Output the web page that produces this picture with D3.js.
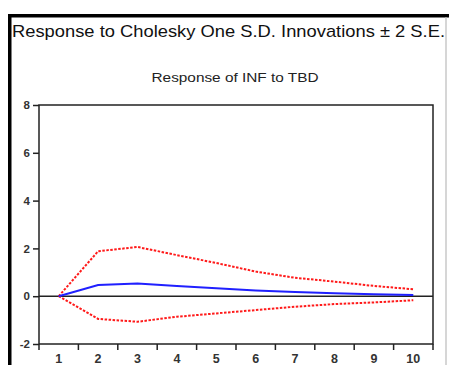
<!DOCTYPE html>
<html>
<head>
<meta charset="utf-8">
<script src="https://cdn.jsdelivr.net/npm/d3@7"></script>
<style>
  body { margin: 0; background: #fff; }
  svg { display: block; }
  text { font-family: "Liberation Sans", Arial, sans-serif; }
</style>
</head>
<body>
<svg id="chart" width="449" height="365"></svg>
<script>
// periods and impulse response values
const periods = [1, 2, 3, 4, 5, 6, 7, 8, 9, 10];
const response = [0, 0.47, 0.53, 0.43, 0.33, 0.24, 0.18, 0.12, 0.08, 0.05];
const upperBand = [0, 1.88, 2.06, 1.72, 1.39, 1.03, 0.77, 0.61, 0.43, 0.29];
const lowerBand = [0, -0.95, -1.07, -0.86, -0.72, -0.58, -0.44, -0.33, -0.26, -0.17];
const yTicks = [-2, 0, 2, 4, 6, 8];

const svg = d3.select("#chart");
const W = 449, H = 365;
const plot = { left: 39, right: 433, top: 105, bottom: 344 };

// outer frame like the EViews window
svg.append("rect").attr("x", 8).attr("y", 14).attr("width", 3.5).attr("height", H - 14).attr("fill", "#000");
svg.append("rect").attr("x", 8).attr("y", 14).attr("width", W - 8).attr("height", 3.5).attr("fill", "#000");
svg.append("line").attr("x1", 446).attr("x2", 446).attr("y1", 17).attr("y2", H)
  .attr("stroke", "#bbb").attr("stroke-width", 1.2);

svg.append("text").attr("x", 12).attr("y", 37)
  .attr("font-size", 17).attr("fill", "#111")
  .attr("textLength", 433).attr("lengthAdjust", "spacingAndGlyphs")
  .text("Response to Cholesky One S.D. Innovations \u00b1 2 S.E.");

svg.append("text").attr("x", 235).attr("y", 82)
  .attr("text-anchor", "middle").attr("font-size", 12.5).attr("fill", "#222")
  .attr("textLength", 167).attr("lengthAdjust", "spacingAndGlyphs")
  .text("Response of INF to TBD");

const x = d3.scaleBand().domain(periods).range([plot.left, plot.right]);
const y = d3.scaleLinear().domain([-2, 8]).range([plot.bottom, plot.top]);
const cx = d => x(d) + x.bandwidth() / 2;

// box
svg.append("rect").attr("x", plot.left).attr("y", plot.top)
  .attr("width", plot.right - plot.left).attr("height", plot.bottom - plot.top)
  .attr("fill", "none").attr("stroke", "#222").attr("stroke-width", 1.5);

// y axis
const yAxis = svg.append("g").attr("transform", `translate(${plot.left},0)`)
  .call(d3.axisLeft(y).tickValues(yTicks).tickSize(6).tickPadding(3).tickFormat(d => String(d)));
yAxis.select(".domain").remove();
yAxis.selectAll("line").attr("stroke", "#222").attr("stroke-width", 1.5);
yAxis.selectAll("text").attr("font-size", 11.5).attr("font-weight", "bold")
  .attr("fill", "#333").attr("font-family", "Liberation Sans, Arial, sans-serif");

// x axis: ticks sit between periods, labels at centres
const edges = periods.map(p => x(p)).concat([plot.right]);
svg.append("g").selectAll("line").data(edges).enter().append("line")
  .attr("x1", d => d).attr("x2", d => d)
  .attr("y1", plot.bottom).attr("y2", plot.bottom + 6)
  .attr("stroke", "#222").attr("stroke-width", 1.5);
svg.append("g").selectAll("text").data(periods).enter().append("text")
  .attr("x", d => cx(d)).attr("y", plot.bottom + 19)
  .attr("text-anchor", "middle").attr("font-size", 12.5).attr("font-weight", "bold")
  .attr("fill", "#333").text(d => d);

// zero line
svg.append("line").attr("x1", plot.left).attr("x2", plot.right)
  .attr("y1", y(0)).attr("y2", y(0)).attr("stroke", "#222").attr("stroke-width", 1.5);

const line = d3.line().x((d, i) => cx(periods[i])).y(d => y(d));

svg.append("path").datum(upperBand).attr("d", line)
  .attr("fill", "none").attr("stroke", "#ff1a1a").attr("stroke-width", 2)
  .attr("stroke-dasharray", "2.5,1.5");
svg.append("path").datum(lowerBand).attr("d", line)
  .attr("fill", "none").attr("stroke", "#ff1a1a").attr("stroke-width", 2)
  .attr("stroke-dasharray", "2.5,1.5");
svg.append("path").datum(response).attr("d", line)
  .attr("fill", "none").attr("stroke", "#2020ff").attr("stroke-width", 2);
</script>
</body>
</html>
